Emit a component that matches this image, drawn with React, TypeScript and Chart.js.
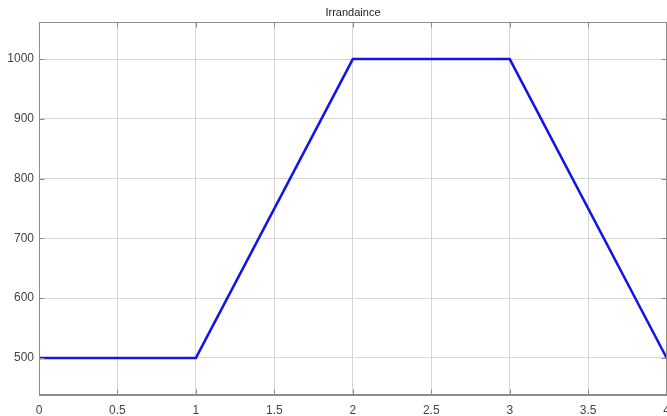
import React, { useEffect, useRef } from "react";
import { Chart, registerables } from "chart.js";

Chart.register(...registerables);

const titleText = "Irrandaince";
const timeValues = [0, 1, 2, 3, 4];
const irradianceValues = [500, 500, 1000, 1000, 500];
const yTicks = [500, 600, 700, 800, 900, 1000];
const xTicks = [0, 0.5, 1, 1.5, 2, 2.5, 3, 3.5, 4];

const frame = {
  id: "frame",
  afterDatasetsDraw(chart: any) {
    const { ctx, chartArea } = chart;
    const l = Math.round(chartArea.left) + 0.5;
    const t = Math.round(chartArea.top) + 0.5;
    const r = Math.round(chartArea.right) - 0.5;
    const b = Math.round(chartArea.bottom) - 0.5;
    ctx.save();
    ctx.strokeStyle = "#8c8c8c";
    ctx.lineWidth = 1;
    ctx.strokeRect(l, t, r - l, b - t);
    ctx.beginPath();
    for (const v of xTicks) {
      const x = Math.round(chart.scales.x.getPixelForValue(v)) + 0.5;
      ctx.moveTo(x, b);
      ctx.lineTo(x, b - 5);
      ctx.moveTo(x, t);
      ctx.lineTo(x, t + 5);
    }
    for (const v of yTicks) {
      const y = Math.round(chart.scales.y.getPixelForValue(v)) + 0.5;
      ctx.moveTo(l, y);
      ctx.lineTo(l + 5, y);
      ctx.moveTo(r, y);
      ctx.lineTo(r - 5, y);
    }
    ctx.stroke();
    ctx.fillStyle = "#222";
    ctx.font = "11px 'Liberation Sans'";
    ctx.textAlign = "center";
    ctx.textBaseline = "middle";
    ctx.fillText(titleText, 353, 13);
    ctx.restore();
  },
};

export default function App() {
  const ref = useRef<HTMLCanvasElement | null>(null);
  useEffect(() => {
    document.body.style.margin = "0";
    const chart = new Chart(ref.current as HTMLCanvasElement, {
      type: "line",
      data: {
        datasets: [
          {
            label: titleText,
            data: timeValues.map((t, i) => ({ x: t, y: irradianceValues[i] })),
            borderColor: "#1414e6",
            borderWidth: 2.5,
            pointRadius: 0,
            tension: 0,
          },
        ],
      },
      options: {
        animation: false,
        responsive: false,
        layout: { padding: { top: 22, left: 0, right: 0, bottom: 0 } },
        plugins: {
          legend: { display: false },
          tooltip: { enabled: false },
          title: { display: false },
        },
        scales: {
          x: {
            type: "linear",
            min: 0,
            max: 4,
            afterBuildTicks: (s: any) => {
              s.ticks = xTicks.map((v) => ({ value: v }));
            },
            afterFit: (s: any) => {
              s.height = 21;
            },
            ticks: {
              color: "#444",
              font: { family: "Liberation Sans", size: 12 },
              padding: 8,
              maxRotation: 0,
              callback: (v: any) => String(v),
            },
            grid: { color: "#d6d6d6", drawTicks: false, lineWidth: 1 },
            border: { color: "#8c8c8c" },
          },
          y: {
            type: "linear",
            min: 438,
            max: 1062,
            afterBuildTicks: (s: any) => {
              s.ticks = yTicks.map((v) => ({ value: v }));
            },
            afterFit: (s: any) => {
              s.width = 39;
            },
            ticks: {
              color: "#444",
              font: { family: "Liberation Sans", size: 12 },
              padding: 5,
              callback: (v: any) => String(v),
            },
            grid: { color: "#d6d6d6", drawTicks: false, lineWidth: 1 },
            border: { color: "#8c8c8c" },
          },
        },
      },
      plugins: [frame],
    });
    return () => chart.destroy();
  }, []);
  return (
    <div style={{ width: 667, height: 416, overflow: "hidden" }}>
      <canvas ref={ref} width={678} height={416} style={{ display: "block" }} />
    </div>
  );
}
